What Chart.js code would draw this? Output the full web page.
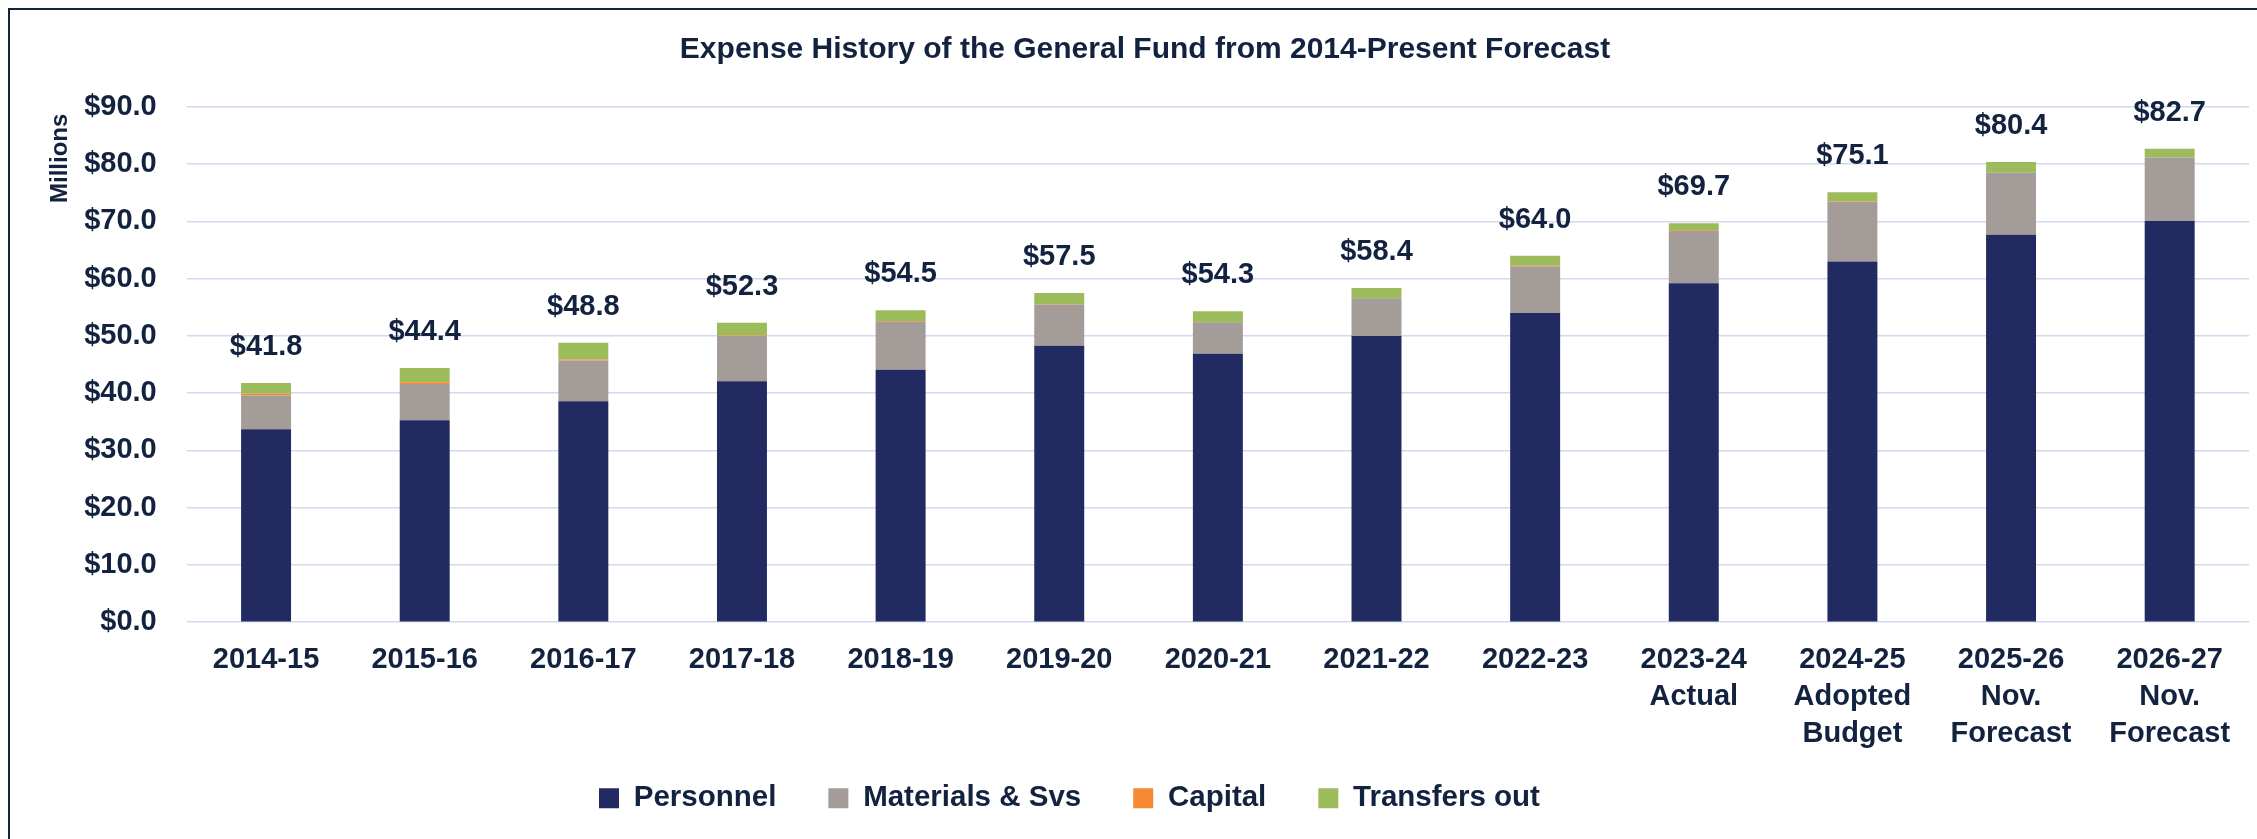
<!DOCTYPE html>
<html>
<head>
<meta charset="utf-8">
<title>Expense History of the General Fund</title>
<script src="https://cdn.jsdelivr.net/npm/chart.js@4.4.1/dist/chart.umd.min.js"></script>
<style>
  html, body { margin: 0; padding: 0; background: #fff; }
  #wrap { position: relative; width: 2257px; height: 839px; overflow: hidden; }
  #frame { position: absolute; left: 8px; top: 8px; width: 2300px; height: 900px;
           border-left: 2px solid #14243F; border-top: 2px solid #14243F; pointer-events: none; }
  canvas { position: absolute; left: 0; top: 0; }
</style>
</head>
<body>
<div id="wrap">
  <canvas id="expense-chart" width="2257" height="839"></canvas>
  <div id="frame"></div>
</div>
<script>
// values in $ millions
const years = [
  '2014-15', '2015-16', '2016-17', '2017-18', '2018-19', '2019-20', '2020-21',
  '2021-22', '2022-23', ['2023-24', 'Actual'], ['2024-25', 'Adopted', 'Budget'],
  ['2025-26', 'Nov.', 'Forecast'], ['2026-27', 'Nov.', 'Forecast']
];
const personnel = [33.7, 35.3, 38.6, 42.1, 44.1, 48.3, 46.9, 50.0, 54.0, 59.2, 63.0, 67.7, 70.1];
const materials = [5.9, 6.3, 7.1, 7.9, 8.4, 7.2, 5.5, 6.6, 8.2, 9.2, 10.4, 10.8, 11.1];
const capital = [0.3, 0.3, 0.2, 0.1, 0.1, 0.1, 0.0, 0.0, 0.1, 0.1, 0.1, 0.0, 0.0];
const transfers = [1.9, 2.5, 2.9, 2.2, 1.9, 1.9, 1.9, 1.8, 1.7, 1.2, 1.6, 1.9, 1.5];
const totals = [41.8, 44.4, 48.8, 52.3, 54.5, 57.5, 54.3, 58.4, 64.0, 69.7, 75.1, 80.4, 82.7];
const yTickLabels = ['$0.0', '$10.0', '$20.0', '$30.0', '$40.0', '$50.0', '$60.0', '$70.0', '$80.0', '$90.0'];

const textColor = '#13233F';
const gridColor = '#D4D7EE';

Chart.defaults.font.family = '"Liberation Sans", Arial, sans-serif';
Chart.defaults.font.weight = 'bold';
Chart.defaults.color = textColor;

// total above each stack
const totalLabels = {
  id: 'totalLabels',
  afterDatasetsDraw(chart) {
    const { ctx, scales: { x, y } } = chart;
    ctx.save();
    ctx.font = 'bold 29px "Liberation Sans", Arial, sans-serif';
    ctx.fillStyle = textColor;
    ctx.textAlign = 'center';
    ctx.textBaseline = 'middle';
    totals.forEach((t, i) => {
      ctx.fillText('$' + t.toFixed(1), x.getPixelForValue(i), y.getPixelForValue(t) - 36);
    });
    ctx.restore();
  }
};

// excel places legend / title a bit off centre, and the 3-line x labels
// run past the axis box, so loosen the clip
const nudge = {
  id: 'nudge',
  afterLayout(chart) {
    const lg = chart.legend;
    const pad = lg.options.labels.padding;
    const start = (lg.left + pad + lg.right - lg.lineWidths[0]) / 2;
    lg.left += 599 - start;
    lg.right += 599 - start;

    const tb = chart.titleBlock;
    const mid = (tb.left + tb.right) / 2;
    tb.left += 1145 - mid;
    tb.right += 1145 - mid;

    chart.scales.x.bottom = chart.height;
  }
};

const makeSet = (label, data, color) => ({
  label, data,
  backgroundColor: color,
  borderWidth: 0,
  barPercentage: 0.315,
  categoryPercentage: 1
});

new Chart(document.getElementById('expense-chart'), {
  type: 'bar',
  data: {
    labels: years,
    datasets: [
      makeSet('Personnel', personnel, '#212A61'),
      makeSet('Materials & Svs', materials, '#A49C98'),
      makeSet('Capital', capital, '#F58A32'),
      makeSet('Transfers out', transfers, '#9CBB5B')
    ]
  },
  options: {
    responsive: false,
    animation: false,
    layout: { padding: { left: 0, right: 8, top: 0, bottom: 16 } },
    plugins: {
      title: {
        display: true,
        text: 'Expense History of the General Fund from 2014-Present Forecast',
        color: textColor,
        font: { size: 30, weight: 'bold' },
        padding: { top: 32, bottom: 39 }
      },
      legend: {
        position: 'bottom',
        labels: {
          boxWidth: 20,
          boxHeight: 20,
          padding: 52,
          color: textColor,
          font: { size: 29.5, weight: 'bold' }
        }
      },
      tooltip: { enabled: false }
    },
    scales: {
      x: {
        stacked: true,
        grid: { display: false, drawTicks: false },
        border: { display: false },
        ticks: {
          padding: 20,
          maxRotation: 0,
          autoSkip: false,
          color: textColor,
          font: { size: 29, weight: 'bold', lineHeight: 1.26 }
        },
        afterFit(scale) { scale.height = 109.3; }
      },
      y: {
        stacked: true,
        min: 0,
        max: 90,
        grid: { color: gridColor, lineWidth: 1.5, drawTicks: false },
        border: { display: false },
        ticks: {
          stepSize: 10,
          padding: 30,
          color: textColor,
          font: { size: 29, weight: 'bold' },
          callback: (v) => yTickLabels[Math.round(v / 10)]
        },
        title: {
          display: true,
          text: 'Millions ',
          align: 'end',
          color: textColor,
          font: { size: 24, weight: 'bold' },
          padding: { top: 46, bottom: 0 }
        },
        afterFit(scale) { scale.width = 186.75; }
      }
    }
  },
  plugins: [totalLabels, nudge]
});
</script>
</body>
</html>
